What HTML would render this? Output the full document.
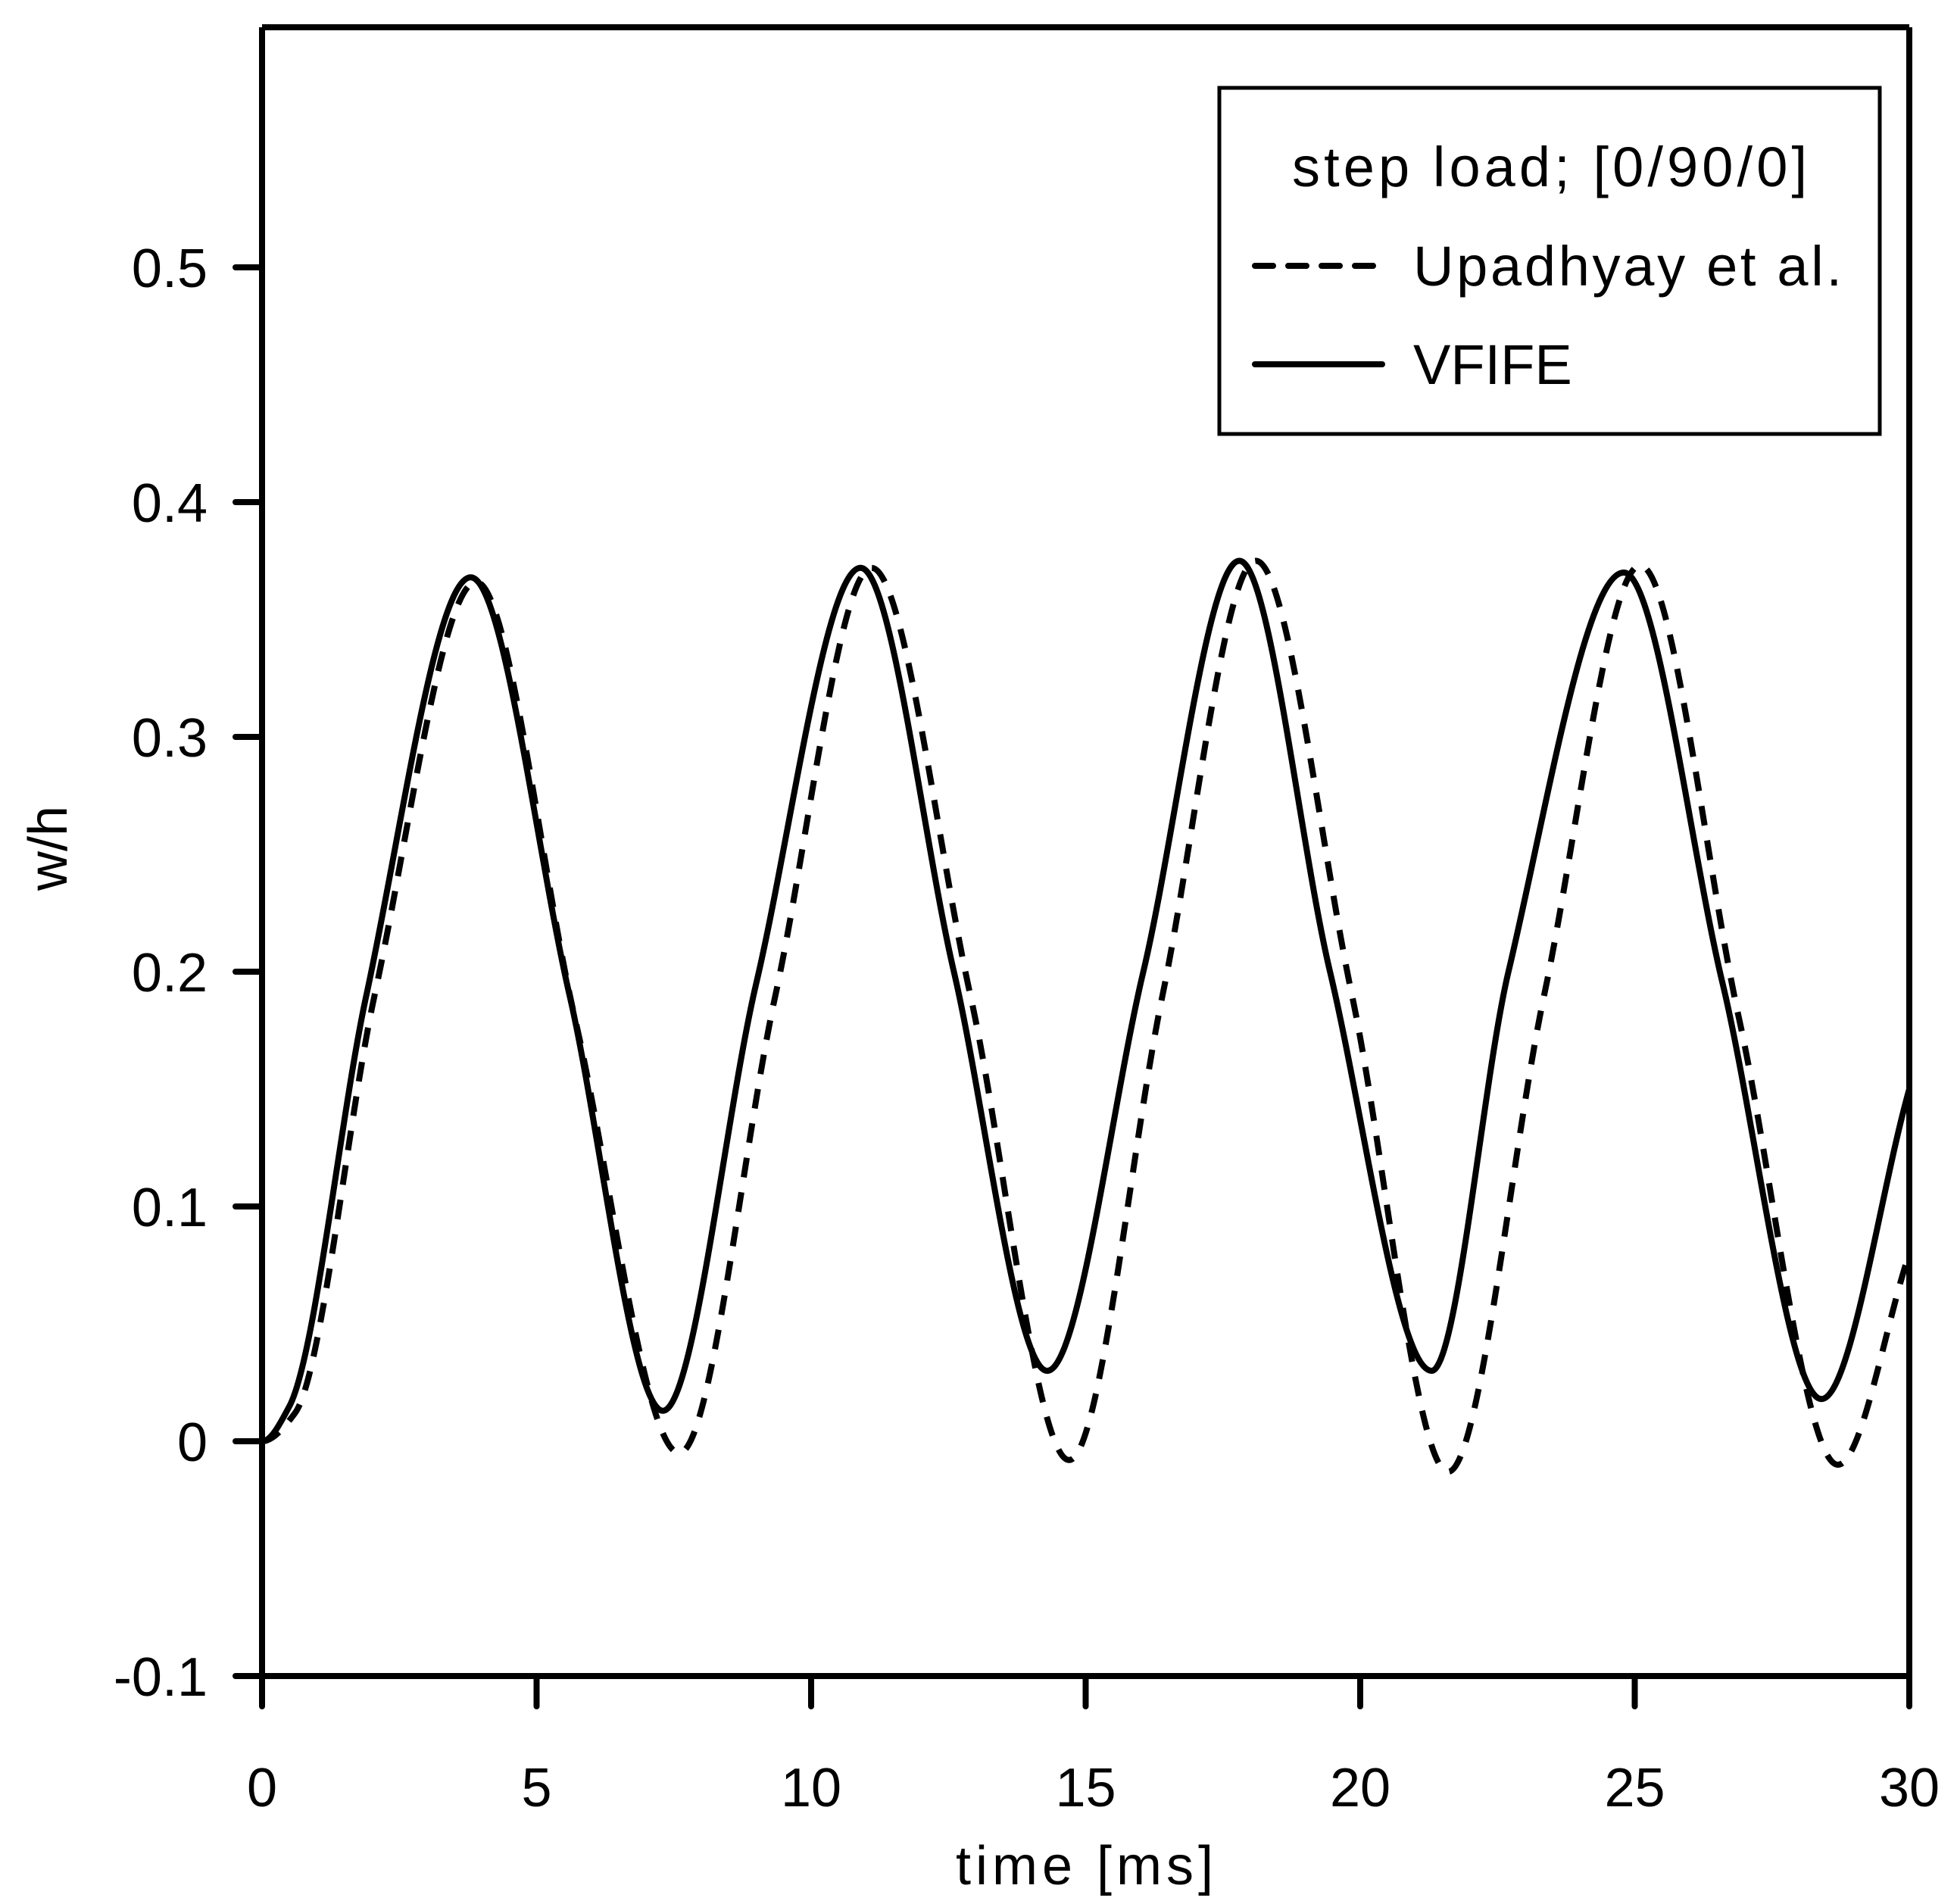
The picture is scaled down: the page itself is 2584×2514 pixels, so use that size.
<!DOCTYPE html>
<html><head><meta charset="utf-8"><style>
body{margin:0;background:#fff}
svg{display:block}
text{font-family:"Liberation Sans",sans-serif;fill:#000}
</style></head><body>
<svg id="chart" width="2584" height="2514" viewBox="0 0 2584 2514">
<g id="axes"></g>
<g id="series"></g>
<g id="legend">
<rect x="1610" y="116" width="872" height="457" fill="#fff" stroke="#000" stroke-width="5"/>
<text x="2046" y="246" font-size="74" text-anchor="middle" textLength="680">step load; [0/90/0]</text>
<line x1="1657" y1="351" x2="1825" y2="351" stroke="#000" stroke-width="8" stroke-dasharray="24,20" stroke-linecap="round"/>
<text x="1866" y="377" font-size="74" textLength="566">Upadhyay et al.</text>
<line x1="1657" y1="481" x2="1825" y2="481" stroke="#000" stroke-width="8" stroke-linecap="round"/>
<text x="1866" y="507" font-size="74">VFIFE</text>
</g>
<text x="1432" y="2488" font-size="72" text-anchor="middle" textLength="340">time [ms]</text>
<text x="0" y="0" font-size="72" text-anchor="middle" transform="translate(88,1120) rotate(-90)">w/h</text>
</svg>
<script>
const xTicks=[0,5,10,15,20,25,30];
const yTicks=[-0.1,0,0.1,0.2,0.3,0.4,0.5];
const yTickLabels=["-0.1","0","0.1","0.2","0.3","0.4","0.5"];
const vfifeT=[0,0.5,1.9,3.8,5.6,7.3,9.0,10.9,12.6,14.3,16.05,17.8,19.45,21.3,22.7,24.8,26.6,28.4,30];
const vfifeW=[0,0.015,0.19,0.368,0.19,0.013,0.195,0.372,0.2,0.030,0.2,0.375,0.2,0.030,0.2,0.370,0.195,0.018,0.15];
const upaT=[0,0.6,2.05,3.9,5.7,7.6,9.35,11.1,12.9,14.7,16.4,18.1,19.85,21.6,23.35,25.1,26.9,28.7,30];
const upaW=[0,0.012,0.19,0.366,0.18,-0.005,0.19,0.372,0.19,-0.008,0.19,0.375,0.19,-0.013,0.19,0.373,0.18,-0.01,0.08];

const X0=346,X1=2521,Y0=1903,YPER=3100;
const sx=t=>X0+(t-0)/30*(X1-X0);
const sy=v=>Y0-v*YPER;
const NS="http://www.w3.org/2000/svg";
const axes=document.getElementById('axes');
function mk(tag,attrs,parent){const e=document.createElementNS(NS,tag);for(const k in attrs)e.setAttribute(k,attrs[k]);parent.appendChild(e);return e;}
let l=mk('line',{x1:X0,y1:36,x2:X0,y2:sy(-0.1),stroke:'#000','stroke-width':8},axes);


l=mk('line',{x1:X0,y1:sy(-0.1),x2:X1,y2:sy(-0.1),stroke:'#000','stroke-width':8},axes);


l=mk('line',{x1:X0,y1:36,x2:X1,y2:36,stroke:'#000','stroke-width':8},axes);


l=mk('line',{x1:X1,y1:36,x2:X1,y2:sy(-0.1),stroke:'#000','stroke-width':8},axes);


xTicks.forEach(t=>{
  const tk=mk('line',{x1:sx(t),y1:sy(-0.1),x2:sx(t),y2:sy(-0.1)+40,stroke:'#000','stroke-width':8,'stroke-linecap':'round'},axes);
  
  
  const tx=mk('text',{x:sx(t),y:sy(-0.1)+172,'font-size':72,'text-anchor':'middle'},axes);
  tx.textContent=String(t);
  
  
});
yTicks.forEach((v,i)=>{
  const tk=mk('line',{x1:X0-35,y1:sy(v),x2:X0,y2:sy(v),stroke:'#000','stroke-width':8,'stroke-linecap':'round'},axes);
  
  
  const tx=mk('text',{x:X0-72,y:sy(v)+26,'font-size':72,'text-anchor':'end'},axes);
  tx.textContent=yTickLabels[i];
  
  
});
// monotone cubic (Fritsch-Carlson) path
function pathFrom(T,W){
  const x=T.map(sx),y=W.map(sy),n=x.length;
  const d=[],m=new Array(n);
  for(let i=0;i<n-1;i++)d.push((y[i+1]-y[i])/(x[i+1]-x[i]));
  m[0]=d[0];m[n-1]=d[n-2];
  for(let i=1;i<n-1;i++){
    if(d[i-1]*d[i]<=0)m[i]=0;
    else{const w1=2*(x[i+1]-x[i])+(x[i]-x[i-1]),w2=(x[i+1]-x[i])+2*(x[i]-x[i-1]);m[i]=(w1+w2)/(w1/d[i-1]+w2/d[i]);}
  }
  m[0]=0;
  let s='M'+x[0]+','+y[0];
  for(let i=0;i<n-1;i++){
    const h=(x[i+1]-x[i])/3;
    s+=` C${x[i]+h},${y[i]+m[i]*h} ${x[i+1]-h},${y[i+1]-m[i+1]*h} ${x[i+1]},${y[i+1]}`;
  }
  return s;
}
const g=document.getElementById('series');
const pu=mk('path',{d:pathFrom(upaT,upaW),fill:'none',stroke:'#000','stroke-width':8,'stroke-dasharray':'26,20'},g);


const pv=mk('path',{d:pathFrom(vfifeT,vfifeW),fill:'none',stroke:'#000','stroke-width':8},g);


</script>
</body></html>
